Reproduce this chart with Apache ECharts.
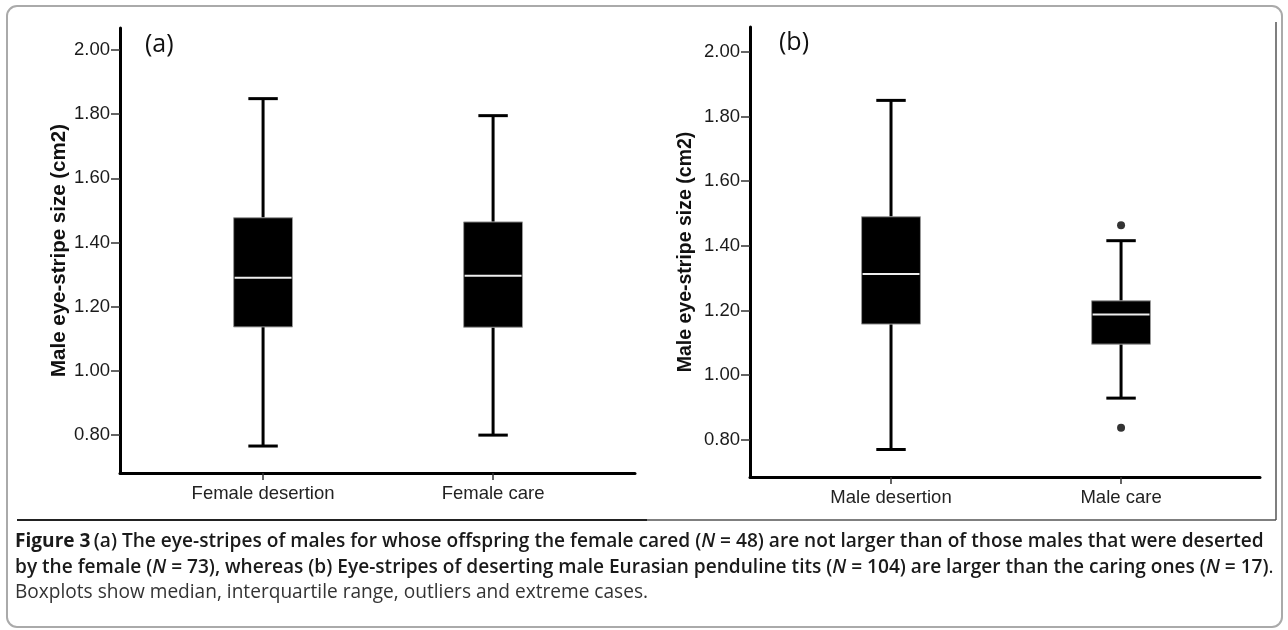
<!DOCTYPE html>
<html>
<head>
<meta charset="utf-8">
<script src="https://cdn.jsdelivr.net/npm/echarts@6/dist/echarts.min.js"></script>
<style>
html, body { margin: 0; padding: 0; background: #fff; }
#main { width: 1288px; height: 630px; }
</style>
</head>
<body>
<div id="main"></div>
<script>
// panel (a)
var catsA = ['Female desertion', 'Female care'];
// [min, Q1, median, Q3, max]
var boxA = [
    [0.766, 1.137, 1.290, 1.477, 1.848],
    [0.800, 1.136, 1.296, 1.464, 1.795]
];
// panel (b)
var catsB = ['Male desertion', 'Male care'];
var boxB = [
    [0.770, 1.158, 1.313, 1.490, 1.850],
    [0.929, 1.096, 1.188, 1.230, 1.416]
];
var outliersB = [[2, 1.464], [2, 0.837]];
var yTicks = [0.8, 1.0, 1.2, 1.4, 1.6, 1.8, 2.0];

var BOX_W = 0.256;   // box width in x units (one unit = one group)
var font = 'Liberation Sans, Arial, sans-serif';
var capFont = 'Open Sans';
var capSize = 19.1;

function renderBox(params, api) {
    var x = api.value(0);
    var lo = api.coord([x, api.value(1)]);
    var q1 = api.coord([x, api.value(2)]);
    var md = api.coord([x, api.value(3)]);
    var q3 = api.coord([x, api.value(4)]);
    var hi = api.coord([x, api.value(5)]);
    var hw = api.size([BOX_W, 0])[0] / 2;
    var cw = hw / 2;
    var ln = { stroke: '#000', lineWidth: 3 };
    return {
        type: 'group',
        children: [
            { type: 'line', shape: { x1: lo[0], y1: lo[1], x2: q1[0], y2: q1[1] }, style: ln },
            { type: 'line', shape: { x1: q3[0], y1: q3[1], x2: hi[0], y2: hi[1] }, style: ln },
            { type: 'line', shape: { x1: lo[0] - cw, y1: lo[1], x2: lo[0] + cw, y2: lo[1] }, style: ln },
            { type: 'line', shape: { x1: hi[0] - cw, y1: hi[1], x2: hi[0] + cw, y2: hi[1] }, style: ln },
            { type: 'rect', shape: { x: q3[0] - hw, y: q3[1], width: 2 * hw, height: q1[1] - q3[1] },
              style: { fill: '#000', stroke: '#999', lineWidth: 1 } },
            { type: 'line', shape: { x1: md[0] - hw + 1, y1: md[1], x2: md[0] + hw - 1, y2: md[1] },
              style: { stroke: '#eee', lineWidth: 2 } }
        ]
    };
}

function toRows(boxes) {
    return boxes.map(function (b, i) { return [i + 1].concat(b); });
}

function xAxisFor(idx, cats, min, max) {
    return {
        type: 'value', gridIndex: idx, min: min, max: max,
        splitLine: { show: false },
        axisLine: { lineStyle: { color: '#000', width: 3 } },
        axisTick: { customValues: [1, 2], length: 7, lineStyle: { color: '#333', width: 1.5 } },
        axisLabel: {
            customValues: [1, 2], margin: 11, color: '#222', fontSize: 18.5, fontFamily: font,
            formatter: function (v) { return cats[Math.round(v) - 1] || ''; }
        }
    };
}

function yAxisFor(idx, min, max, nameSize, gap) {
    return {
        type: 'value', gridIndex: idx, min: min, max: max,
        name: 'Male eye-stripe size (cm2)', nameLocation: 'middle', nameGap: gap,
        nameTextStyle: { fontSize: nameSize, fontWeight: 'bold', color: '#111', fontFamily: font },
        splitLine: { show: false },
        axisLine: { show: true, lineStyle: { color: '#000', width: 3 } },
        axisTick: { show: true, customValues: yTicks, length: 9, lineStyle: { color: '#333', width: 1.5 } },
        axisLabel: {
            customValues: yTicks, margin: 10, color: '#1a1a1a', fontSize: 18.5, fontFamily: font,
            formatter: function (v) { return v.toFixed(2); }
        }
    };
}

function capStyles() {
    return {
        b: { fontFamily: capFont, fontSize: capSize, fontWeight: 700, fill: '#1a1a1a' },
        s: { fontFamily: capFont, fontSize: capSize, fontWeight: 600, fill: '#1a1a1a' },
        i: { fontFamily: capFont, fontSize: capSize, fontWeight: 600, fontStyle: 'italic', fill: '#1a1a1a' },
        r: { fontFamily: capFont, fontSize: capSize, fill: '#1a1a1a' }
    };
}

var chart = echarts.init(document.getElementById('main'));

var option = {
    animation: false,
    title: [
        { text: '(a)', left: 140, top: 27, textStyle: { fontSize: 25, fontWeight: 'normal', color: '#111', fontFamily: capFont } },
        { text: '(b)', left: 774, top: 25, textStyle: { fontSize: 25, fontWeight: 'normal', color: '#111', fontFamily: capFont } }
    ],
    grid: [
        { left: 120, right: 653, top: 28, bottom: 157 },
        { left: 750, right: 28, top: 27, bottom: 153 }
    ],
    xAxis: [
        xAxisFor(0, catsA, 0.378, 2.617),
        xAxisFor(1, catsB, 0.387, 2.604)
    ],
    yAxis: [
        yAxisFor(0, 0.682, 2.068, 20.5, 44),
        yAxisFor(1, 0.685, 2.077, 19.5, 54)
    ],
    series: [
        { type: 'custom', xAxisIndex: 0, yAxisIndex: 0, renderItem: renderBox,
          encode: { x: 0, y: [1, 2, 3, 4, 5] }, data: toRows(boxA) },
        { type: 'custom', xAxisIndex: 1, yAxisIndex: 1, renderItem: renderBox,
          encode: { x: 0, y: [1, 2, 3, 4, 5] }, data: toRows(boxB) },
        { type: 'scatter', xAxisIndex: 1, yAxisIndex: 1, symbolSize: 8,
          itemStyle: { color: '#000' }, data: outliersB }
    ],
    graphic: [
        { type: 'rect', shape: { x: 7, y: 6, width: 1275, height: 621, r: 10 },
          style: { fill: 'none', stroke: '#aaa', lineWidth: 2 } },
        { type: 'line', shape: { x1: 17, y1: 520, x2: 647, y2: 520 }, style: { stroke: '#222', lineWidth: 2 } },
        { type: 'line', shape: { x1: 647, y1: 520, x2: 1276, y2: 520 }, style: { stroke: '#555', lineWidth: 1.5 } },
        { type: 'line', shape: { x1: 1276, y1: 22, x2: 1276, y2: 520 }, style: { stroke: '#555', lineWidth: 1.5 } },
        {
            type: 'text', left: 15, top: 532,
            style: {
                text: '{b|Figure 3} {s|(a) The eye-stripes of males for whose offspring the female cared (}{i|N}{s| = 48) are not larger than of those males that were deserted}',
                rich: capStyles()
            }
        },
        {
            type: 'text', left: 15, top: 558,
            style: {
                text: '{s|by the female (}{i|N}{s| = 73), whereas (b) Eye-stripes of deserting male Eurasian penduline tits (}{i|N}{s| = 104) are larger than the caring ones (}{i|N}{s| = 17)}{r|.}',
                rich: capStyles()
            }
        },
        {
            type: 'text', left: 15, top: 583,
            style: {
                text: 'Boxplots show median, interquartile range, outliers and extreme cases.',
                fontFamily: capFont, fontSize: capSize, fill: '#333'
            }
        }
    ]
};

chart.setOption(option);
</script>
</body>
</html>
